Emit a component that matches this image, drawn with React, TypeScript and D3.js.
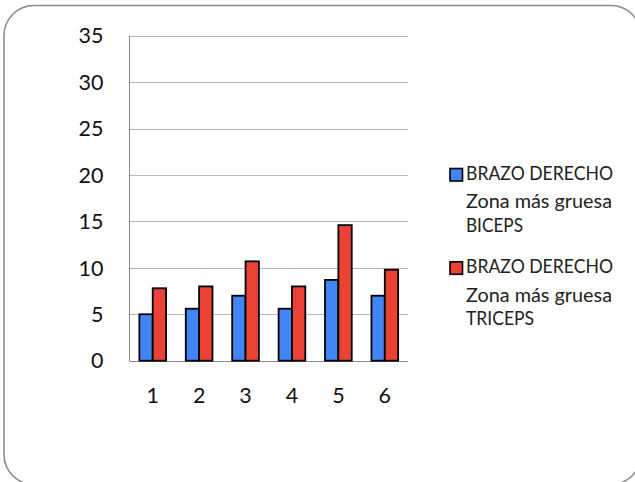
import React from "react";
import * as d3 from "d3";

// Measurement groups and their readings
const categories = ["1", "2", "3", "4", "5", "6"];
const biceps = [5.0, 5.6, 7.0, 5.6, 8.7, 7.0];
const triceps = [7.8, 8.0, 10.7, 8.0, 14.6, 9.8];
const yTicks = [0, 5, 10, 15, 20, 25, 30, 35];
const seriesNames = [
  ["BRAZO DERECHO", "Zona más gruesa", "BICEPS"],
  ["BRAZO DERECHO", "Zona más gruesa", "TRICEPS"],
];
const seriesColors = ["#4285F4", "#EA4335"];

const W = 635;
const H = 482;
const plot = { left: 129.5, right: 408, top: 35.7, bottom: 360.7 };
const FONT = "Lato, 'Open Sans', sans-serif";

// widths of the legend lines, so the wrapped text keeps its column shape
const legendWidths: Record<string, number> = {
  "BRAZO DERECHO": 147,
  "Zona más gruesa": 146,
  BICEPS: 57,
  TRICEPS: 68,
};

export default function App() {
  const x = d3
    .scaleBand<string>()
    .domain(categories)
    .range([plot.left, plot.right])
    .paddingInner(0.425)
    .paddingOuter(0.2125);
  const sub = d3
    .scaleBand<number>()
    .domain([0, 1])
    .range([0, x.bandwidth()]);
  const y = d3.scaleLinear().domain([0, 35]).range([plot.bottom, plot.top]);
  const series = [biceps, triceps];

  const legendRows = [
    { marker: 168.5, lines: [179.5, 208.3, 231.7] },
    { marker: 261.8, lines: [272.7, 301.7, 325] },
  ];

  return (
    <svg
      width={W}
      height={H}
      style={{ position: "absolute", left: 0, top: 0, display: "block", background: "#fff" }}
      fontFamily={FONT}
    >
      {/* outer rounded frame */}
      <rect x={4} y={5.5} width={637} height={479} rx={30} ry={30} fill="#fff" stroke="#8c8c8c" strokeWidth={1.6} />

      {/* horizontal grid lines */}
      {yTicks.map((t) => (
        <line
          key={t}
          x1={plot.left}
          x2={plot.right}
          y1={Math.round(y(t)) + 0.5}
          y2={Math.round(y(t)) + 0.5}
          stroke={t === 0 ? "#8a8a8a" : "#b8b8b8"}
          strokeWidth={1}
        />
      ))}
      {/* y axis line */}
      <line x1={plot.left} x2={plot.left} y1={plot.top} y2={plot.bottom + 0.5} stroke="#8a8a8a" strokeWidth={1} />

      {/* y tick labels */}
      {yTicks.map((t) => (
        <text key={t} x={103.5} y={y(t)} dy="0.36em" textAnchor="end" fontSize={21.5} fill="#111">
          {t}
        </text>
      ))}

      {/* bars */}
      {categories.map((c, i) => (
        <g key={c} transform={`translate(${x(c)},0)`}>
          {series.map((s, k) => (
            <rect
              key={k}
              x={sub(k) ?? 0}
              y={y(s[i])}
              width={sub.bandwidth()}
              height={plot.bottom - y(s[i])}
              fill={seriesColors[k]}
              stroke="#000"
              strokeWidth={1.8}
            />
          ))}
        </g>
      ))}

      {/* x tick labels */}
      {categories.map((c) => (
        <text key={c} x={(x(c) ?? 0) + x.bandwidth() / 2} y={403.3} textAnchor="middle" fontSize={21.5} fill="#111">
          {c}
        </text>
      ))}

      {/* legend */}
      {legendRows.map((row, k) => (
        <g key={k}>
          <rect x={450} y={row.marker} width={12.5} height={12.5} fill={seriesColors[k]} stroke="#000" strokeWidth={1.6} />
          {seriesNames[k].map((line, j) => (
            <text
              key={j}
              x={466}
              y={row.lines[j]}
              fontSize={18.5}
              fill="#222"
              textLength={legendWidths[line]}
              lengthAdjust="spacingAndGlyphs"
            >
              {line}
            </text>
          ))}
        </g>
      ))}
    </svg>
  );
}
